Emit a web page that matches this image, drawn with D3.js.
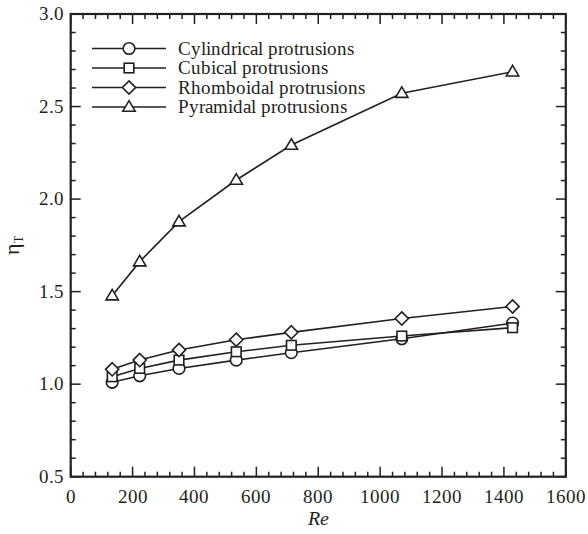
<html>
<head>
<meta charset="utf-8">
<script src="https://cdn.jsdelivr.net/npm/d3@7"></script>
<style>
  @font-face { font-family: "RefSerif"; font-style: normal; src: local("Liberation Serif"), local("LiberationSerif"), local("LiberationSerif-Regular"); }
  @font-face { font-family: "RefSerif"; font-style: italic; src: local("Liberation Serif Italic"), local("LiberationSerif-Italic"); }
</style>
</head>
<body style="margin:0">
<svg id="chart" width="588" height="534"></svg>
<script>
// ---- data ----
const reValues = [134, 223, 350, 535, 713, 1070, 1428];
const cylindrical = [1.01, 1.045, 1.085, 1.13, 1.17, 1.245, 1.33];
const cubical = [1.04, 1.085, 1.13, 1.175, 1.21, 1.26, 1.305];
const rhomboidal = [1.08, 1.13, 1.185, 1.24, 1.28, 1.355, 1.42];
const pyramidal = [1.478, 1.662, 1.878, 2.103, 2.292, 2.572, 2.688];
const seriesNames = ["Cylindrical protrusions", "Cubical protrusions", "Rhomboidal protrusions", "Pyramidal protrusions"];
const seriesMarkers = ["circle", "square", "diamond", "triangle"];
const xTicks = [0, 200, 400, 600, 800, 1000, 1200, 1400, 1600];
const yTicks = [0.5, 1.0, 1.5, 2.0, 2.5, 3.0];
const xLabel = "Re";
const yLabel = "η";
const yLabelSub = "T";

const seriesData = [cylindrical, cubical, rhomboidal, pyramidal];

// ---- layout ----
const svg = d3.select("#chart");
const L = 70.7, R = 565.8, T = 14, B = 476.7;
const ink = "#231f20";
const FONT = "RefSerif, 'Liberation Serif', 'Times New Roman', serif";

const x = d3.scaleLinear().domain([0, 1600]).range([L, R]);
const y = d3.scaleLinear().domain([0.5, 3.0]).range([B, T]);

// ---- ticks (inward, all four sides) ----
const xMinor = d3.range(0, 1600.1, 40).filter(v => v % 200 !== 0);
const yMinor = d3.range(5, 30.1, 1).map(v => v / 10).filter(v => Math.round(v * 10) % 5 !== 0);
const MAJ = 10, MIN = 5;

const gAxis = svg.append("g").attr("stroke", ink).attr("stroke-width", 1.5);
function tickX(vals, len) {
  vals.forEach(v => {
    gAxis.append("line").attr("x1", x(v)).attr("x2", x(v)).attr("y1", B).attr("y2", B - len);
    gAxis.append("line").attr("x1", x(v)).attr("x2", x(v)).attr("y1", T).attr("y2", T + len);
  });
}
function tickY(vals, len) {
  vals.forEach(v => {
    gAxis.append("line").attr("y1", y(v)).attr("y2", y(v)).attr("x1", L).attr("x2", L + len);
    gAxis.append("line").attr("y1", y(v)).attr("y2", y(v)).attr("x1", R).attr("x2", R - len);
  });
}
tickX(xTicks, MAJ); tickX(xMinor, MIN);
tickY(yTicks, MAJ); tickY(yMinor, MIN);

svg.append("rect").attr("x", L).attr("y", T).attr("width", R - L).attr("height", B - T)
  .attr("fill", "none").attr("stroke", ink).attr("stroke-width", 2.2);

// tick labels
svg.append("g").selectAll("text").data(xTicks).join("text")
  .attr("x", d => x(d)).attr("y", 503).attr("text-anchor", "middle")
  .style("font-family", FONT).attr("fill", ink)
  .attr("font-size", 18.5).text(d => d);
svg.append("g").selectAll("text").data(yTicks).join("text")
  .attr("x", 63.5).attr("y", d => y(d) + 6.3).attr("text-anchor", "end")
  .style("font-family", FONT).attr("fill", ink)
  .attr("font-size", 18.5).text(d => d3.format(".1f")(d));

// axis titles
svg.append("text").attr("x", x(800)).attr("y", 525).attr("text-anchor", "middle")
  .style("font-family", FONT).style("font-style", "italic").attr("fill", ink)
  .attr("font-size", 20).text(xLabel);
const yt = svg.append("text").attr("transform", `translate(19,${(T + B) / 2}) rotate(-90)`)
  .style("font-family", FONT).attr("fill", ink)
  .attr("text-anchor", "middle").attr("font-size", 22);
yt.append("tspan").text(yLabel);
yt.append("tspan").attr("font-size", 12).attr("dy", 4).text(yLabelSub);

// ---- markers ----
function drawMarker(g, type, cx, cy) {
  let m;
  if (type === "circle") {
    m = g.append("circle").attr("cx", cx).attr("cy", cy).attr("r", 5.8);
  } else if (type === "square") {
    m = g.append("rect").attr("x", cx - 4.8).attr("y", cy - 4.8).attr("width", 9.6).attr("height", 9.6);
  } else if (type === "diamond") {
    const r = 6.6;
    m = g.append("path").attr("d", `M${cx},${cy - r}L${cx + r},${cy}L${cx},${cy + r}L${cx - r},${cy}Z`);
  } else {
    const h = 10.5, w = 6.2;
    m = g.append("path").attr("d", `M${cx},${cy - h * 0.6}L${cx + w},${cy + h * 0.4}L${cx - w},${cy + h * 0.4}Z`);
  }
  m.attr("fill", "#fff").attr("stroke", ink).attr("stroke-width", 1.6);
}

// ---- series ----
const line = d3.line().x(d => x(d[0])).y(d => y(d[1]));
seriesData.forEach((vals, i) => {
  const pts = reValues.map((r, j) => [r, vals[j]]);
  const g = svg.append("g");
  g.append("path").attr("d", line(pts)).attr("fill", "none")
    .attr("stroke", ink).attr("stroke-width", 1.6);
  pts.forEach(p => drawMarker(g, seriesMarkers[i], x(p[0]), y(p[1])));
});

// ---- legend ----
const legY0 = 48.5, legDy = 19.5;
const leg = svg.append("g");
seriesNames.forEach((name, i) => {
  const ly = legY0 + i * legDy;
  leg.append("line").attr("x1", 92).attr("x2", 166).attr("y1", ly).attr("y2", ly)
    .attr("stroke", ink).attr("stroke-width", 1.6);
  drawMarker(leg, seriesMarkers[i], 129, ly);
  leg.append("text").attr("x", 178).attr("y", ly + 6)
    .style("font-family", FONT).attr("fill", ink)
    .attr("font-size", 18.5).text(name);
});
</script>
</body>
</html>
